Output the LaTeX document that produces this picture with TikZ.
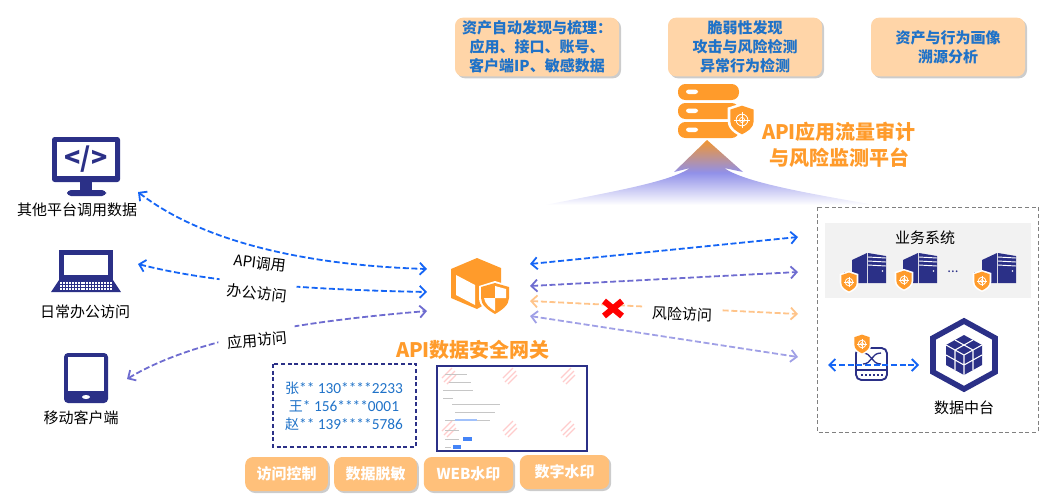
\documentclass[tikz,border=0pt]{standalone}
\usepackage{fontspec}
\setmainfont{Noto Sans CJK SC}
\newfontfamily\numfont{Carlito}
\usepackage{xcolor}
\usepackage{tikz}
\usetikzlibrary{positioning,calc,shadows,arrows.meta}

\definecolor{navy}{HTML}{2B3087}
\definecolor{safeorange}{HTML}{FF9B2B}
\definecolor{softorange}{HTML}{FFC07A}
\definecolor{peach}{HTML}{FFD5A8}
\definecolor{linkblue}{HTML}{1565F5}
\definecolor{linkpurple}{HTML}{6E6CD0}
\definecolor{linklilac}{HTML}{A0A0E6}
\definecolor{linkpeach}{HTML}{FFC48A}
\definecolor{infoblue}{HTML}{1F72C8}

\tikzset{
    pagefont/.style={font=\fontsize{11.25pt}{14pt}\selectfont},
    plainlabel/.style={pagefont,inner sep=1pt},
    cutlabel/.style={pagefont,fill=white,inner xsep=6.5pt,inner ysep=6pt},
    infobox/.style={draw=none,fill=peach,rounded corners=6pt,align=center,text=infoblue,font=\fontsize{11.25pt}{14.2pt}\selectfont\bfseries,
        drop shadow={shadow xshift=1.5pt,shadow yshift=-1.5pt,fill=gray!80},inner sep=0pt},
    funcbox/.style={draw=none,fill=softorange,rounded corners=6pt,text=white,font=\fontsize{11.25pt}{14pt}\selectfont\bfseries,
        drop shadow={shadow xshift=1.5pt,shadow yshift=-1.5pt,fill=gray!80},inner sep=0pt},
    bigtitle/.style={text=safeorange,font=\fontsize{15pt}{19.5pt}\selectfont\bfseries,align=center,inner sep=0pt},
    dashlink/.style={line width=1.35pt,dash pattern=on 4.5pt off 2pt,{Straight Barb[length=4.5pt,width=9pt]}-{Straight Barb[length=4.5pt,width=9pt]}},
    pics/shieldmark/.style={code={
        \fill [white] (0,-13) -- (11,-9.5) -- (11,1) .. controls (11,7) and (5,11) .. (0,13) .. controls (-5,11) and (-11,7) .. (-11,1) -- (-11,-9.5) -- cycle;
        \fill [safeorange] (0,-11) -- (9,-8) -- (9,1) .. controls (9,6) and (4,9) .. (0,11) .. controls (-4,9) and (-9,6) .. (-9,1) -- (-9,-8) -- cycle;
        \draw [white,line width=.6pt] (0,0) circle (4.5);
        \draw [white,line width=.6pt] (-6,0) -- (6,0) (0,-6) -- (0,6);
        \draw [white,line width=.5pt] (0,0) circle (2);
    }},
    pics/towerserver/.style={code={
        \fill [navy] (-8,30) rectangle (8,19);
        \fill [navy] (0,7) -- (15,0) -- (15,30) -- (0,30) -- cycle;
        \fill [navy] (16,0) -- (34,3) -- (34,30) -- (16,30) -- cycle;
        \foreach \yy in {4,8,12} \draw [white,line width=.7pt] (16,\yy) -- (34,\yy+1);
        \fill [white] (30.5,18) circle (.9);
    }}
}

\begin{document}
\begin{tikzpicture}[x=0.75pt,y=-0.75pt]
    \useasboundingbox (0,0) rectangle (1052,501);

    % top row
    \node [infobox,minimum width=123pt,minimum height=44pt] (assetbox) at (537,47) {资产自动发现与梳理：\\应用、接口、账号、\\客户端IP、敏感数据};
    \node [infobox,minimum width=115.5pt,minimum height=44pt] (riskbox) at (745,47) {脆弱性发现\\攻击与风险检测\\异常行为检测};
    \node [infobox,minimum width=115.5pt,minimum height=44pt] (profilebox) at (948,47) {资产与行为画像\\溯源分析};

    % audit platform icon
    \foreach \yy in {84,103,122} {
        \fill [safeorange,rounded corners=5.5pt] (678,\yy) rectangle (739,\yy+16);
        \fill [white,rounded corners=2pt] (686,\yy+5.5) rectangle (698,\yy+10);
    }
    \pic [scale=1.3] at (742,120) {shieldmark};
    \node [bigtitle] (audittitle) at (839,145) {API应用流量审计\\与风险监测平台};
    \shade [top color=safeorange!80!brown,bottom color=white,middle color=linklilac!90!blue]
        (707,140) -- (743,172) -- (724,168) .. controls (745,182) and (800,192) .. (875,205)
        -- (545,205) .. controls (610,192) and (670,182) .. (690,168) -- (674,172) -- cycle;

    % clients
    \fill [navy,rounded corners=2pt] (52,137) rectangle (120,182);
    \fill [white] (57,142) rectangle (115,176);
    \fill [navy] (80,182) rectangle (92,191);
    \fill [navy,rounded corners=3pt] (67,190) rectangle (106,196);
    \node [text=navy,font=\fontsize{20pt}{20pt}\selectfont\bfseries,inner sep=0pt] (codemark) at (86,159) {</>};
    \node [plainlabel] (platlabel) at (77,210) {其他平台调用数据};
    \fill [navy] (59,250) rectangle (113,280);
    \fill [white] (64,255) rectangle (108,275);
    \fill [navy] (59,280) -- (113,280) -- (121,292) -- (51,292) -- cycle;
    \foreach \yy in {283,286,289} \draw [white,line width=.8pt,dash pattern=on 1.5pt off .7pt] (60,\yy) -- (112,\yy);
    \node [plainlabel] (officelabel) at (85,312) {日常办公访问};
    \fill [navy,rounded corners=3pt] (64,353) rectangle (108,403);
    \fill [white] (68,357) rectangle (104,391);
    \fill [white] (86,397) ellipse (4 and 2);
    \node [plainlabel] (mobilelabel) at (81,418) {移动客户端};

    % gateway icon
    \fill [safeorange] (477,258) -- (501,268) -- (501,295) -- (477,309) -- (451,298) -- (451,269) -- cycle;
    \fill [white] (456,275) -- (475,285) -- (475,305) -- (456,295) -- cycle;
    \fill [white] (495,281) -- (511,286) -- (511,298) .. controls (511,306) and (503,312) .. (495,316) .. controls (487,312) and (479,306) .. (479,298) -- (479,286) -- cycle;
    \fill [safeorange] (495,283) -- (509,287) -- (509,298) .. controls (509,305) and (502,310) .. (495,314) .. controls (488,310) and (481,305) .. (481,298) -- (481,287) -- cycle;
    \fill [white] (495,286) -- (506,289) -- (506,298) -- (495,298) -- cycle;
    \fill [white] (495,298) -- (484,298) .. controls (485,304) and (490,308) .. (495,311) -- cycle;
    \node [bigtitle] (gatewaytitle) at (473,350) {API数据安全网关};

    % links to clients
    \coordinate (gatewayapi) at (427,269);
    \coordinate (gatewayoffice) at (427,292);
    \coordinate (gatewayapp) at (427,311);
    \coordinate (platend) at (138,192);
    \coordinate (officeend) at (138,264);
    \coordinate (mobileend) at (127,379);
    \draw [dashlink,linkblue] (officeend) .. controls (220,285) and (330,290) .. (gatewayoffice);
    \draw [dashlink,linkpurple] (mobileend) .. controls (200,335) and (320,320) .. (gatewayapp);
    \node [cutlabel,rotate=-6] (officelink) at (257,293) {办公访问};
    \node [cutlabel,rotate=5] (applink) at (257,340) {应用访问};
    \draw [dashlink,linkblue] (platend) .. controls (200,240) and (300,265) .. (gatewayapi);
    \node [plainlabel,rotate=-7] (apilabel) at (260,263) {API调用};

    % links to business side
    \coordinate (gwa) at (530,264); \coordinate (sysa) at (798,237);
    \coordinate (gwb) at (530,286); \coordinate (sysb) at (798,272);
    \coordinate (gwc) at (530,301); \coordinate (sysc) at (798,314);
    \coordinate (gwd) at (530,316); \coordinate (sysd) at (798,357);
    \draw [dashlink,linkblue] (gwa) -- (sysa);
    \draw [dashlink,linkpurple] (gwb) -- (sysb);
    \draw [dashlink,linkpeach] (gwc) -- (sysc);
    \draw [dashlink,linklilac] (gwd) -- (sysd);
    \node [pagefont,fill=white,inner xsep=6pt,inner ysep=1pt,rotate=-2] (risklabel) at (682,314) {风险访问};
    \draw [red,line width=4.6pt] (604,301) -- (622,316) (622,301) -- (604,316);

    % masked data
    \draw [navy,line width=.8pt,dash pattern=on 3pt off 2pt] (273,364) rectangle (416,447);
    \node [text=infoblue,align=center,inner sep=0pt,font=\fontsize{10.5pt}{13.5pt}\selectfont] (maskdata) at (344,406)
        {张{\numfont\fontsize{11.5pt}{13.5pt}\selectfont** 130****2233}\\王{\numfont\fontsize{11.5pt}{13.5pt}\selectfont* 156****0001}\\赵{\numfont\fontsize{11.5pt}{13.5pt}\selectfont** 139****5786}};

    % watermark screenshot
    \draw [navy,line width=.8pt] (437,366) rectangle (587,451);
    \foreach \xx in {449,510,568} \foreach \yy in {377,430} {
        \draw [red!20,line width=.9pt] (\xx-7,\yy+1) -- (\xx+3,\yy-9) (\xx-5,\yy+5) -- (\xx+6,\yy-6) (\xx-2,\yy+7) -- (\xx+7,\yy-2);
    }
    \foreach \xx/\yy/\ww in {445/374/22,449/382/22,443/390/30,443/398/10,452/404/48,455/412/40,445/420/45,445/430/14,445/439/14,445/447/6} {
        \draw [gray!45,line width=.6pt] (\xx,\yy) -- (\xx+\ww,\yy);
    }
    \draw [linkblue!40,line width=.8pt] (455,420) -- (477,420);
    \fill [linkblue!80] (463,437) rectangle (472,441);
    \fill [linkblue!80] (453,445) rectangle (461,449);

    % functions
    \node [funcbox,minimum width=62pt,minimum height=25.5pt] (aclbox) at (286.5,474) {访问控制};
    \node [funcbox,minimum width=62pt,minimum height=25.5pt] (maskbox) at (375.5,474) {数据脱敏};
    \node [funcbox,minimum width=67pt,minimum height=25.5pt] (webbox) at (468.5,474) {WEB水印};
    \node [funcbox,minimum width=67pt,minimum height=25.5pt] (digitbox) at (564.5,472) {数字水印};

    % business side
    \draw [gray,line width=.7pt,dash pattern=on 3pt off 2pt] (817,207) rectangle (1038,432);
    \fill [black!5] (825,223) rectangle (1031,298);
    \node [plainlabel] (syslabel) at (925,238) {业务系统};
    \foreach \xx in {852,903,982} \pic at (\xx,253) {towerserver};
    \foreach \xx/\yy in {849/282,904/280,982/281} \pic [scale=.85] at (\xx,\yy) {shieldmark};
    \node [text=navy,inner sep=0pt,font=\fontsize{10pt}{10pt}\selectfont] (sysdots) at (953,272) {...};

    \draw [navy,line width=1.4pt,rounded corners=4pt,fill=white] (856,348) rectangle (887,380);
    \draw [navy,line width=1.2pt] (856,370) -- (887,370);
    \draw [navy,line width=1.2pt,dash pattern=on 1.5pt off 1.5pt] (861,375) -- (883,375);
    \draw [navy,line width=1pt] (863,353) .. controls (872,353) and (871,364) .. (881,364) (863,364) .. controls (872,364) and (871,353) .. (881,353);
    \coordinate (switchl) at (828,365); \coordinate (switchr) at (919,365);
    \draw [dashlink,linkblue] (switchl) -- (switchr);
    \pic [scale=.85] at (862,344) {shieldmark};

    \draw [navy,line width=4.2pt] (964,321) -- (995,338) -- (995,372) -- (964,389) -- (933,372) -- (933,338) -- cycle;
    \fill [navy] (964,335) -- (982,345) -- (982,365) -- (964,375) -- (946,365) -- (946,345) -- cycle;
    \draw [white,line width=.8pt] (964,355) -- (946,345) (964,355) -- (982,345) (964,355) -- (964,375)
        (955,340) -- (973,350) (973,340) -- (955,350) (946,355) -- (964,365) (982,355) -- (964,365) (955,350) -- (955,370) (973,350) -- (973,370);
    \node [plainlabel] (hublabel) at (964,408) {数据中台};
\end{tikzpicture}
\end{document}
